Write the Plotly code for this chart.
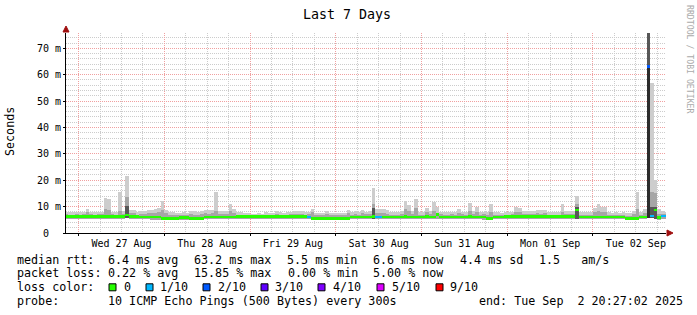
import plotly.graph_objects as go
from datetime import datetime, timedelta

# ---------------- data (values in ms) ----------------
first_bin = "2025-08-26 20:00"          # hourly bins (smokeping 1h consolidation)
window_start = "2025-08-26 20:27:02"
window_end = "2025-09-02 20:27:02"

smoke_top = [
    8.0, 7.9, 7.8, 7.8,
    7.8, 8.0, 9.1, 8.0, 7.8, 7.9, 8.1, 13.4, 13.0, 8.0, 7.9, 15.6, 8.2, 21.7, 8.6, 8.6, 7.9, 8.2, 8.3, 8.7, 8.7, 9.0, 9.6, 12.1,
    8.7, 7.8, 7.9, 7.6, 7.5, 8.0, 7.7, 8.3, 8.2, 7.8, 8.5, 8.7, 8.6, 8.7, 15.6, 8.4, 8.3, 8.3, 11.0, 9.1, 7.9, 7.8, 7.7, 7.5,
    7.3, 7.3, 7.4, 7.3, 7.8, 7.6, 7.4, 8.3, 7.8, 7.7, 7.8, 8.0, 8.3, 8.3, 8.3, 7.8, 8.0, 9.2, 7.6, 7.7, 7.6, 8.3, 7.6, 7.5,
    7.6, 7.6, 7.7, 8.9, 8.0, 8.2, 7.9, 8.9, 8.1, 8.3, 17.2, 9.1, 9.1, 9.1, 8.6, 8.1, 7.8, 7.8, 8.3, 12.2, 10.8, 8.2, 13.0, 8.0,
    8.0, 9.3, 8.3, 11.9, 9.8, 8.1, 8.0, 7.9, 8.1, 8.0, 9.1, 8.1, 8.0, 11.5, 8.3, 9.8, 8.0, 8.1, 7.9, 11.0, 7.9, 7.8, 7.7, 7.8,
    7.8, 8.0, 9.7, 9.6, 8.3, 8.2, 8.3, 8.5, 8.7, 8.6, 8.7, 7.9, 7.8, 8.0, 7.8, 11.0, 8.3, 8.2, 8.3, 14.0, 8.0, 7.9, 7.8, 7.8,
    9.3, 11.0, 9.8, 10.0, 7.8, 7.7, 7.9, 7.6, 7.8, 7.5, 7.6, 8.5, 15.6, 8.0, 9.0, 80.0, 57.0, 20.0, 9.0, 8.5, 8.0,
]

smoke_mid = [
    7.1, 7.0, 7.0, 7.1,
    7.0, 7.2, 7.8, 7.1, 7.0, 7.1, 7.2, 9.0, 8.6, 7.1, 7.0, 8.5, 7.3, 13.7, 7.4, 7.5, 7.0, 7.2, 7.3, 7.4, 7.5, 7.6, 7.8, 8.6,
    7.4, 6.9, 7.0, 6.8, 6.7, 7.0, 6.8, 7.1, 7.0, 6.9, 7.3, 7.4, 7.3, 7.5, 8.5, 7.3, 7.2, 7.2, 8.5, 7.6, 7.0, 7.0, 6.9, 6.8,
    6.8, 6.8, 6.9, 6.8, 7.0, 6.9, 6.8, 7.2, 7.0, 6.9, 7.0, 7.1, 7.2, 7.3, 7.2, 7.0, 7.1, 7.8, 6.7, 6.8, 6.7, 7.1, 6.7, 6.7,
    6.7, 6.8, 6.8, 7.4, 7.0, 7.1, 7.0, 7.4, 7.1, 7.3, 11.0, 7.6, 7.5, 7.6, 7.3, 7.0, 6.9, 6.9, 7.2, 9.0, 8.3, 7.1, 9.5, 7.0,
    7.0, 7.8, 7.2, 8.5, 7.6, 7.1, 7.0, 7.0, 7.1, 7.0, 7.5, 7.1, 7.0, 8.5, 7.2, 7.8, 7.0, 7.1, 6.9, 8.0, 6.8, 6.8, 6.8, 7.0,
    7.0, 7.1, 7.9, 7.8, 7.2, 7.1, 7.2, 7.3, 7.4, 7.3, 7.4, 7.0, 6.9, 7.0, 7.0, 8.0, 7.2, 7.1, 7.3, 11.0, 7.0, 7.0, 6.9, 6.9,
    7.8, 8.5, 7.8, 7.9, 7.0, 6.9, 7.0, 6.8, 6.9, 6.6, 6.6, 7.2, 9.0, 7.0, 7.5, 80.0, 15.6, 15.0, 7.3, 7.2, 7.1,
]

smoke_min = [
    5.3, 5.3, 5.4, 5.3,
    5.3, 5.3, 5.4, 5.3, 5.3, 5.3, 5.4, 5.3, 5.3, 5.3, 5.3, 5.4, 5.3, 5.5, 5.4, 5.3, 5.2, 5.2, 5.2, 5.2, 5.1, 5.1, 5.1, 5.0,
    5.0, 5.0, 4.9, 5.0, 5.1, 5.1, 5.0, 5.0, 5.0, 5.0, 5.2, 5.2, 5.2, 5.2, 5.3, 5.2, 5.2, 5.2, 5.3, 5.3, 5.3, 5.3, 5.3, 5.3,
    5.3, 5.3, 5.3, 5.3, 5.3, 5.3, 5.3, 5.3, 5.3, 5.3, 5.3, 5.3, 5.3, 5.3, 5.3, 5.3, 5.4, 5.1, 5.0, 5.0, 5.0, 5.0, 5.0, 5.0,
    5.0, 5.0, 5.0, 5.0, 5.2, 5.2, 5.2, 5.2, 5.2, 5.2, 5.3, 5.3, 5.3, 5.2, 5.2, 5.2, 5.2, 5.2, 5.2, 5.2, 5.3, 5.2, 5.3, 5.2,
    5.2, 5.3, 5.2, 5.3, 5.3, 5.2, 5.2, 5.2, 5.2, 5.2, 5.3, 5.2, 5.2, 5.3, 5.2, 5.3, 5.2, 5.1, 5.0, 5.1, 5.2, 5.2, 5.2, 5.3,
    5.3, 5.3, 5.3, 5.3, 5.3, 5.3, 5.3, 5.3, 5.3, 5.3, 5.3, 5.3, 5.3, 5.3, 5.3, 5.3, 5.3, 5.3, 5.3, 5.4, 5.2, 5.2, 5.2, 5.2,
    5.2, 5.3, 5.2, 5.2, 5.2, 5.2, 5.2, 5.2, 5.2, 5.0, 5.0, 5.1, 5.2, 5.2, 5.2, 5.6, 5.5, 5.4, 5.0, 5.2, 5.2,
]

median_rtt = [
    6.2, 6.2, 6.2, 6.2,
    6.2, 6.2, 6.2, 6.2, 6.2, 6.2, 6.2, 6.3, 6.2, 6.2, 6.2, 6.2, 6.3, 6.8, 6.2, 6.2, 6.2, 6.0, 6.0, 6.0, 6.0, 6.0, 6.0, 5.5,
    5.5, 5.5, 5.5, 5.5, 5.8, 5.8, 5.8, 5.5, 5.5, 5.5, 5.5, 6.0, 6.0, 6.0, 6.0, 6.0, 6.0, 6.0, 6.0, 6.0, 6.2, 6.2, 6.2, 6.2,
    6.2, 6.2, 6.2, 6.2, 6.3, 6.3, 6.2, 6.2, 6.2, 6.2, 6.2, 6.2, 6.2, 6.2, 6.2, 6.2, 6.0, 5.5, 5.5, 5.5, 5.5, 5.5, 5.5, 5.5,
    5.5, 5.5, 5.5, 5.5, 6.0, 6.0, 6.0, 6.0, 6.0, 6.0, 6.3, 6.0, 6.0, 6.1, 6.1, 6.1, 6.1, 6.1, 6.1, 6.3, 6.1, 6.1, 6.1, 6.1,
    6.1, 6.3, 6.1, 6.1, 7.0, 6.1, 6.1, 6.1, 6.0, 6.0, 6.1, 6.1, 6.1, 6.3, 6.1, 6.1, 6.1, 6.0, 5.6, 5.6, 6.1, 6.1, 6.1, 6.2,
    6.2, 6.2, 6.2, 6.2, 6.2, 6.2, 6.2, 6.2, 6.2, 6.2, 6.2, 6.3, 6.2, 6.2, 6.2, 6.3, 6.2, 6.2, 6.2, 8.7, 6.0, 6.0, 6.0, 6.0,
    6.0, 6.1, 6.0, 6.0, 6.0, 6.0, 6.0, 6.0, 6.0, 5.5, 5.5, 5.5, 5.5, 6.0, 6.0, 63.2, 6.4, 8.7, 5.9, 6.4, 6.4,
]

# darker smoke bands (sparse): bin index -> top of band
dark_bins = [17, 86, 143, 163, 164, 165]
dark_top = [10.3, 9.5, 10.0, 80.0, 10.0, 10.0]
core_bins = [163]
core_top = [62.5]

# packet loss (tenths of 10 pings), sparse; all other bins 0
loss_bins = [68, 87, 88, 163, 164, 167, 168]
loss_tenths = [1, 1, 1, 2, 1, 1, 1]

loss_levels = ["0", "1/10", "2/10", "3/10", "4/10", "5/10", "9/10"]
loss_level_values = [0, 1, 2, 3, 4, 5, 9]
loss_colors = ["#26ff00", "#00b8ff", "#0059ff", "#5e00ff", "#7e00ff", "#dd00ff", "#ff0000"]

y_tick_vals = [0, 10, 20, 30, 40, 50, 60, 70]
y_tick_text = ["\u00a00\u00a0\u00a0", "10 m", "20 m", "30 m", "40 m", "50 m", "60 m", "70 m"]

# ---------------- geometry ----------------
W, H = 697, 315
PL, PW = 66, 600
PT, PH = 33, 200
PB = PT + PH
MONO = "DejaVu Sans Mono"

def px_x(px):
    return (px - PL) / PW

def px_y(py):
    return (PB - py) / PH

t0 = datetime.strptime(first_bin, "%Y-%m-%d %H:%M")
n = len(median_rtt)
xs = [t0 + timedelta(minutes=30) + timedelta(hours=h) for h in range(n)]
HOUR_MS = 3600 * 1000

loss = [0] * n
for b, l in zip(loss_bins, loss_tenths):
    loss[b] = l

fig = go.Figure()

# light smoke
fig.add_trace(go.Bar(x=xs, y=[t - m for t, m in zip(smoke_top, smoke_min)], base=smoke_min,
                     width=HOUR_MS, marker=dict(color="#cdcdcd", line_width=0), hoverinfo="skip"))
# mid smoke
fig.add_trace(go.Bar(x=xs, y=[t - m for t, m in zip(smoke_mid, smoke_min)], base=smoke_min,
                     width=HOUR_MS, marker=dict(color="#a6a6a6", line_width=0), hoverinfo="skip"))
# dark smoke
fig.add_trace(go.Bar(x=[xs[b] for b in dark_bins],
                     y=[t - smoke_min[b] for b, t in zip(dark_bins, dark_top)],
                     base=[smoke_min[b] for b in dark_bins],
                     width=HOUR_MS, marker=dict(color="#575757", line_width=0), hoverinfo="skip"))
fig.add_trace(go.Bar(x=[xs[b] for b in core_bins],
                     y=[t - smoke_min[b] for b, t in zip(core_bins, core_top)],
                     base=[smoke_min[b] for b in core_bins],
                     width=HOUR_MS, marker=dict(color="#2c2c2c", line_width=0), hoverinfo="skip"))

# median, colored by loss
MED_THICK = 1.0
for lv, col in zip(loss_level_values, loss_colors):
    if lv not in loss:
        continue
    fig.add_trace(go.Bar(x=xs, y=[MED_THICK if l == lv else None for l in loss],
                         base=[m - MED_THICK / 2 for m in median_rtt],
                         width=HOUR_MS, marker=dict(color=col, line_width=0), hoverinfo="skip"))

grid_dash = "1px,1px"
fig.update_layout(
    width=W, height=H,
    margin=dict(l=PL, r=W - PL - PW, t=PT, b=H - PB, pad=0),
    paper_bgcolor="white", plot_bgcolor="white",
    barmode="overlay", bargap=0, showlegend=False,
    font=dict(family=MONO, size=10, color="black"),
    xaxis=dict(
        type="date", range=[window_start, window_end],
        tick0="2025-08-27 00:00", dtick=86400000,
        tickformat="%a %d %b", ticklabelmode="period",
        showgrid=True, gridcolor="#f0a0a0", griddash=grid_dash, gridwidth=1,
        minor=dict(dtick=6 * 3600 * 1000, tick0="2025-08-27 00:00", showgrid=True,
                   gridcolor="#cccccc", griddash=grid_dash, gridwidth=1),
        showline=True, linecolor="black", linewidth=1,
        ticks="outside", ticklen=2, tickcolor="black",
        ticklabelstandoff=-1,
        tickfont=dict(family=MONO, size=10, color="black"),
        zeroline=False, fixedrange=True,
    ),
    yaxis=dict(
        range=[0, 75.8], tickvals=y_tick_vals, ticktext=y_tick_text,
        showgrid=True, gridcolor="#f0a0a0", griddash=grid_dash, gridwidth=1,
        minor=dict(dtick=2, tick0=0, showgrid=True, gridcolor="#cccccc",
                   griddash=grid_dash, gridwidth=1),
        showline=True, linecolor="black", linewidth=1,
        ticks="outside", ticklen=2, tickcolor="black",
        tickfont=dict(family=MONO, size=10, color="black"),
        zeroline=False, fixedrange=True,
    ),
)

ann = []
def text(t, px, py, size=11.7, anchor="left", color="black", angle=0):
    ann.append(dict(text=t, x=px_x(px), y=px_y(py), xref="paper", yref="paper",
                    xanchor=anchor, yanchor="middle", showarrow=False, textangle=angle,
                    font=dict(family=MONO, size=size, color=color), borderpad=0))

text("Last 7 Days", 347.3, 14, size=13.3, anchor="center")
text("Seconds", 10, 132, size=11.7, anchor="center", angle=-90)
text("RRDTOOL / TOBI OETIKER", 690, 59, size=8.2, anchor="center", color="#aaaaaa", angle=90)

OFF = 0.8
L1, L2, L3, L4 = 260.0, 273.4, 287.3, 300.7
legend_rows = [
    ("median rtt:", 16.7, L1), ("6.4 ms avg", 107.3, L1), ("63.2 ms max", 193.3, L1),
    ("5.5 ms min", 286.7, L1), ("6.6 ms now", 372.7, L1), ("4.4 ms sd", 459.3, L1),
    ("1.5\u00a0\u00a0\u00a0am/s", 538.3, L1),
    ("packet loss:", 16.7, L2), ("0.22 % avg", 107.3, L2), ("15.85 % max", 193.3, L2),
    ("0.00 % min", 287.3, L2), ("5.00 % now", 372.7, L2),
    ("loss color:", 16.7, L3),
    ("probe:", 16.7, L4), ("10 ICMP Echo Pings (500 Bytes) every 300s", 107.3, L4),
    ("end: Tue Sep\u00a0\u00a02 20:27:02 2025", 478.3, L4),
]
for t, px, py in legend_rows:
    text(t, px - OFF, py)

box_left = [109, 146, 203, 261, 318, 377, 436]
label_left = [124, 160, 218, 275, 333, 392, 450]
shapes = []
for lbl, bx, lx, col in zip(loss_levels, box_left, label_left, loss_colors):
    text(lbl, lx - OFF, L3)
    shapes.append(dict(type="rect", xref="paper", yref="paper",
                       xsizemode="pixel", ysizemode="pixel",
                       xanchor=px_x(bx), yanchor=px_y(L3),
                       x0=0, x1=7, y0=-3.5, y1=3.5,
                       fillcolor=col, line=dict(color="black", width=1)))

# axis arrows
shapes.append(dict(type="path", xref="paper", yref="paper", xsizemode="pixel", ysizemode="pixel",
                   xanchor=1.0, yanchor=0.0, path="M 1,-3 L 7,0 L 1,3 Z",
                   fillcolor="#a01010", line=dict(color="#a01010", width=1)))
shapes.append(dict(type="path", xref="paper", yref="paper", xsizemode="pixel", ysizemode="pixel",
                   xanchor=0.0, yanchor=1.0, path="M -3,1 L 0,7 L 3,1 Z",
                   fillcolor="#a01010", line=dict(color="#a01010", width=1)))

fig.update_layout(annotations=ann, shapes=shapes)
fig.write_html("out.html")
